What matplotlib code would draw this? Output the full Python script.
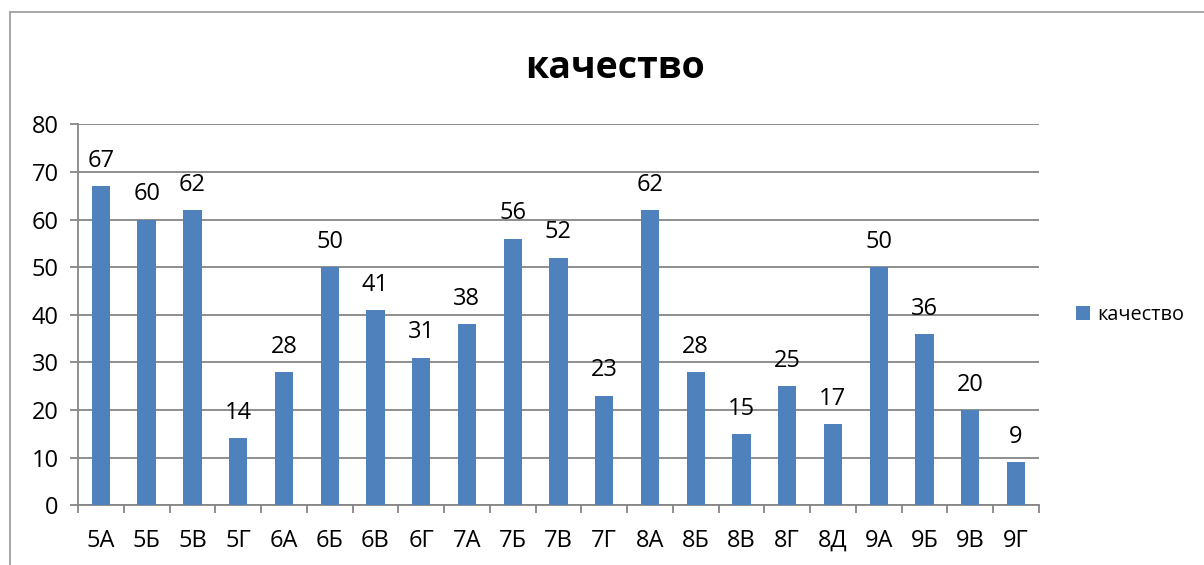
import numpy as np
import matplotlib
matplotlib.use('Agg')
import matplotlib.pyplot as plt
from matplotlib.lines import Line2D

plt.rcParams['font.family'] = ['Open Sans', 'DejaVu Sans']

# данные
classes = ['5А', '5Б', '5В', '5Г', '6А', '6Б', '6В', '6Г', '7А', '7Б', '7В',
           '7Г', '8А', '8Б', '8В', '8Г', '8Д', '9А', '9Б', '9В', '9Г']
quality = [67, 60, 62, 14, 28, 50, 41, 31, 38, 56, 52,
           23, 62, 28, 15, 25, 17, 50, 36, 20, 9]
series_name = 'качество'

bar_color = '#4F81BD'
grid_color = '#868686'

fig = plt.figure(figsize=(12.04, 5.65), dpi=100)
ax = fig.add_axes([0.0648, 0.106, 0.798, 0.674])

x = np.arange(len(classes))
rects = ax.bar(x, quality, width=0.4, color=bar_color, label=series_name, zorder=3)

for r in rects:
    h = r.get_height()
    ax.annotate('{}'.format(h), xy=(r.get_x() + r.get_width() / 2, h),
                xytext=(0, 9.5), textcoords='offset points',
                ha='center', va='bottom', fontsize=17, zorder=4)

ax.set_xlim(-0.5, len(classes) - 0.5)
ax.set_ylim(0, 80)
ax.set_yticks(range(0, 81, 10))
ax.yaxis.grid(True, color=grid_color, linewidth=1.3, zorder=0)

# деления между категориями
ax.set_xticks(x)
ax.set_xticklabels(classes, fontsize=17)
ax.set_xticks(np.arange(-0.5, len(classes), 1), minor=True)
ax.tick_params(axis='x', which='major', length=0, pad=17)
ax.tick_params(axis='x', which='minor', length=6, width=1.3, color=grid_color)
ax.tick_params(axis='y', length=6, width=1.3, color=grid_color, labelsize=17, pad=8)

for s in ['top', 'right']:
    ax.spines[s].set_visible(False)
for s in ['left', 'bottom']:
    ax.spines[s].set_color(grid_color)
    ax.spines[s].set_linewidth(1.3)

fig.text(0.511, 0.88, series_name, ha='center', va='center',
         fontsize=27, fontweight='bold')

ax.legend(loc='center left', bbox_to_anchor=(1.02, 0.5), frameon=False,
          fontsize=14.3, handlelength=0.7, handleheight=0.7, handletextpad=0.4)

# рамка диаграммы
fig.add_artist(Line2D([0.0083, 0.0083], [0.0, 0.979], color='#A0A0A0', linewidth=1.3))
fig.add_artist(Line2D([0.0083, 1.0], [0.979, 0.979], color='#A0A0A0', linewidth=1.3))

fig.savefig('out.png', dpi=100)
